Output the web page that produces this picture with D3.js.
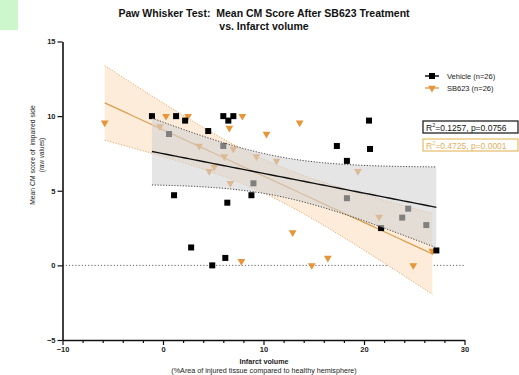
<!DOCTYPE html>
<html>
<head>
<meta charset="utf-8">
<script src="https://cdn.jsdelivr.net/npm/d3@7"></script>
<style>
  body { margin: 0; background: #fff; }
  svg { display: block; font-family: "Liberation Sans", Arial, sans-serif; }
</style>
</head>
<body>
<svg id="chart" width="519" height="375"></svg>
<script>
// Data
const vehicleX = [-1.1, 1.3, 2.2, 4.5, 0.6, 6.0, 6.0, 6.5, 7.0, 17.3, 18.3, 18.3, 9.0, 8.8, 6.4, 2.8, 6.2, 4.9, 20.5, 20.6, 24.4, 23.8, 26.2, 21.7, 27.2, 1.1];
const vehicleY = [10.0, 10.0, 9.7, 9.0, 8.8, 8.0, 10.0, 9.7, 10.0, 8.0, 7.0, 4.5, 5.5, 4.7, 4.2, 1.2, 0.5, 0.0, 9.7, 7.8, 3.8, 3.2, 2.7, 2.5, 1.0, 4.7];
const sbX = [-5.8, 0.3, 2.5, -0.3, 6.6, 3.6, 7.0, 6.1, 5.1, 4.6, 7.9, 13.6, 10.3, 9.3, 11.3, 6.7, 12.9, 7.8, 16.4, 14.8, 19.4, 21.5, 24.9, 26.8];
const sbY = [9.55, 10.0, 10.0, 9.3, 9.2, 8.0, 7.8, 7.3, 6.6, 6.3, 10.0, 9.55, 8.8, 7.3, 7.0, 5.5, 2.2, 0.27, 0.5, 0.0, 6.3, 3.25, 0.0, 0.96];
const xTicks = [-10, 0, 10, 20, 30];
const yTicks = [-5, 0, 5, 10, 15];
const seriesNames = ['Vehicle (n=26)', 'SB623 (n=26)'];
const r2Labels = ['0.1257', '0.4725'];
const pLabels = ['0.0756', '0.0001'];

const svg = d3.select('#chart');

// Colours
const orange = '#e69538';
const orangeLine = '#d9a055';
const orangeBand = '#fdecd9';

// Scales
const x = d3.scaleLinear().domain([-10, 30]).range([62.5, 464.5]);
const y = d3.scaleLinear().domain([-5, 15]).range([340, 41.5]);

// t quantile (0.975) via Cornish-Fisher expansion
function tq(v) {
    const z = 1.959964;
    return z + (z ** 3 + z) / (4 * v)
        + (5 * z ** 5 + 16 * z ** 3 + 3 * z) / (96 * v * v)
        + (3 * z ** 7 + 19 * z ** 5 + 17 * z ** 3 - 15 * z) / (384 * v ** 3);
}

// Linear fit with 95% confidence band
function fit(xs, ys) {
    const n = xs.length;
    const mx = d3.mean(xs), my = d3.mean(ys);
    let sxx = 0, sxy = 0;
    xs.forEach((v, i) => { sxx += (v - mx) ** 2; sxy += (v - mx) * (ys[i] - my); });
    const b = sxy / sxx, a = my - b * mx;
    const sse = d3.sum(xs, (v, i) => (ys[i] - a - b * v) ** 2);
    const s = Math.sqrt(sse / (n - 2));
    const t = tq(n - 2);
    const [lo, hi] = d3.extent(xs);
    return d3.range(61).map(i => {
        const xv = lo + (hi - lo) * i / 60;
        const yh = a + b * xv;
        const h = t * s * Math.sqrt(1 / n + (xv - mx) ** 2 / sxx);
        return { x: xv, y: yh, lo: yh - h, hi: yh + h };
    });
}

const vehFit = fit(vehicleX, vehicleY);
const sbFit = fit(sbX, sbY);

const area = d3.area().x(d => x(d.x)).y0(d => y(d.lo)).y1(d => y(d.hi));
const mid = d3.line().x(d => x(d.x)).y(d => y(d.y));
const upper = d3.line().x(d => x(d.x)).y(d => y(d.hi));
const lower = d3.line().x(d => x(d.x)).y(d => y(d.lo));

// Zero reference line
svg.append('line')
    .attr('x1', x(-10)).attr('x2', x(30))
    .attr('y1', y(0)).attr('y2', y(0))
    .attr('stroke', '#555').attr('stroke-width', 0.9)
    .attr('stroke-dasharray', '1.2,2');

// SB623 band and line (under the points)
svg.append('path').attr('d', area(sbFit)).attr('fill', orangeBand);
[upper, lower].forEach(g => {
    svg.append('path').attr('d', g(sbFit))
        .attr('fill', 'none').attr('stroke', '#e0a060')
        .attr('stroke-width', 0.9).attr('stroke-dasharray', '1.2,1.6');
});
svg.append('path').attr('d', mid(sbFit))
    .attr('fill', 'none').attr('stroke', orangeLine).attr('stroke-width', 1.3);

// Points
const tri = d3.symbol().type(d3.symbolTriangle).size(26);
svg.append('g').selectAll('path')
    .data(sbX.map((v, i) => [v, sbY[i]]))
    .join('path')
    .attr('d', tri)
    .attr('transform', d => `translate(${x(d[0])},${y(d[1])}) rotate(180)`)
    .attr('fill', orange);

svg.append('g').selectAll('rect')
    .data(vehicleX.map((v, i) => [v, vehicleY[i]]))
    .join('rect')
    .attr('x', d => x(d[0]) - 3).attr('y', d => y(d[1]) - 3)
    .attr('width', 6).attr('height', 6)
    .attr('fill', '#000');

// Vehicle band over the points
svg.append('path').attr('d', area(vehFit))
    .attr('fill', '#d4d4d4').attr('fill-opacity', 0.6);
[upper, lower].forEach(g => {
    svg.append('path').attr('d', g(vehFit))
        .attr('fill', 'none').attr('stroke', '#333')
        .attr('stroke-width', 0.9).attr('stroke-dasharray', '1.2,1.6');
});
svg.append('path').attr('d', mid(vehFit))
    .attr('fill', 'none').attr('stroke', '#111').attr('stroke-width', 1.4);

// Axes
const yAxis = svg.append('g')
    .attr('transform', `translate(${x(-10)},0)`)
    .call(d3.axisLeft(y).tickValues(yTicks).tickSize(5).tickSizeOuter(0).tickPadding(2));
const xAxis = svg.append('g')
    .attr('transform', `translate(0,${y(-5)})`)
    .call(d3.axisBottom(x).tickValues(xTicks).tickSize(5).tickSizeOuter(0).tickPadding(2));
svg.append('g')
    .attr('transform', `translate(0,${y(-5)})`)
    .call(d3.axisBottom(x).tickValues(d3.range(-8, 30, 2).filter(v => v % 10 !== 0))
        .tickSize(3).tickSizeOuter(0).tickFormat(''))
    .call(g => g.select('.domain').remove());

[yAxis, xAxis].forEach(g => {
    g.select('.domain').attr('stroke', '#111').attr('stroke-width', 1.6);
    g.selectAll('.tick line').attr('stroke', '#111').attr('stroke-width', 1.2);
    g.selectAll('.tick text')
        .attr('font-family', '"Liberation Sans", Arial, sans-serif')
        .attr('font-size', 7.5).attr('font-weight', 'bold').attr('fill', '#222');
});
svg.selectAll('.tick line').attr('stroke', '#111').attr('stroke-width', 1.2);

// Title
svg.append('text')
    .attr('x', 264).attr('y', 17).attr('text-anchor', 'middle')
    .attr('font-size', 10.5).attr('font-weight', 'bold').attr('fill', '#111')
    .style('white-space', 'pre')
    .text('Paw Whisker Test:  Mean CM Score After SB623 Treatment');
svg.append('text')
    .attr('x', 264).attr('y', 29.5).attr('text-anchor', 'middle')
    .attr('font-size', 10.5).attr('font-weight', 'bold').attr('fill', '#111')
    .text('vs. Infarct volume');

// Y axis title
svg.append('text')
    .attr('transform', `translate(35,${155}) rotate(-90)`)
    .attr('text-anchor', 'middle')
    .attr('font-size', 6.8).attr('fill', '#222')
    .style('white-space', 'pre')
    .text('Mean CM score of  impaired side');
svg.append('text')
    .attr('transform', `translate(44,${155}) rotate(-90)`)
    .attr('text-anchor', 'middle')
    .attr('font-size', 6.3).attr('fill', '#222')
    .text('(raw values)');

// X axis title
svg.append('text')
    .attr('x', 264).attr('y', 364).attr('text-anchor', 'middle')
    .attr('font-size', 7.2).attr('font-weight', 'bold').attr('fill', '#222')
    .text('Infarct volume');
svg.append('text')
    .attr('x', 264).attr('y', 373).attr('text-anchor', 'middle')
    .attr('font-size', 7.2).attr('fill', '#222')
    .text('(%Area of injured tissue compared to healthy hemisphere)');

// Legend
const legend = svg.append('g').attr('transform', 'translate(425,76)');
seriesNames.forEach((name, i) => {
    const row = legend.append('g').attr('transform', `translate(0,${i * 12})`);
    const col = i === 0 ? '#000' : orange;
    row.append('line').attr('x1', 0).attr('x2', 14).attr('y1', 0).attr('y2', 0)
        .attr('stroke', i === 0 ? '#000' : orangeLine).attr('stroke-width', 1.4);
    if (i === 0) {
        row.append('rect').attr('x', 4).attr('y', -3).attr('width', 6).attr('height', 6).attr('fill', col);
    } else {
        row.append('path').attr('d', tri).attr('transform', 'translate(7,0) rotate(180)').attr('fill', col);
    }
    row.append('text').attr('x', 22).attr('y', 3)
        .attr('font-size', 7.5).attr('fill', '#222').text(name);
});

// R² / p boxes
r2Labels.forEach((r2, i) => {
    const g = svg.append('g').attr('transform', `translate(423,${121 + i * 18})`);
    const col = i === 0 ? '#222' : '#e8c070';
    g.append('rect').attr('x', 0).attr('y', 0).attr('width', 95).attr('height', 12)
        .attr('fill', '#fff').attr('stroke', col).attr('stroke-width', 1.3);
    const t = g.append('text').attr('x', 3).attr('y', 9.5)
        .attr('font-size', 8.5).attr('fill', i === 0 ? '#111' : '#e0b060');
    t.append('tspan').text('R');
    t.append('tspan').attr('font-size', 5.5).attr('dy', -3.5).text('2');
    t.append('tspan').attr('dy', 3.5).text(`=${r2}, p=${pLabels[i]}`);
});

// Top-left green block
svg.append('rect').attr('x', 0).attr('y', 0).attr('width', 18).attr('height', 30).attr('fill', '#ccf7cc');
</script>
</body>
</html>
